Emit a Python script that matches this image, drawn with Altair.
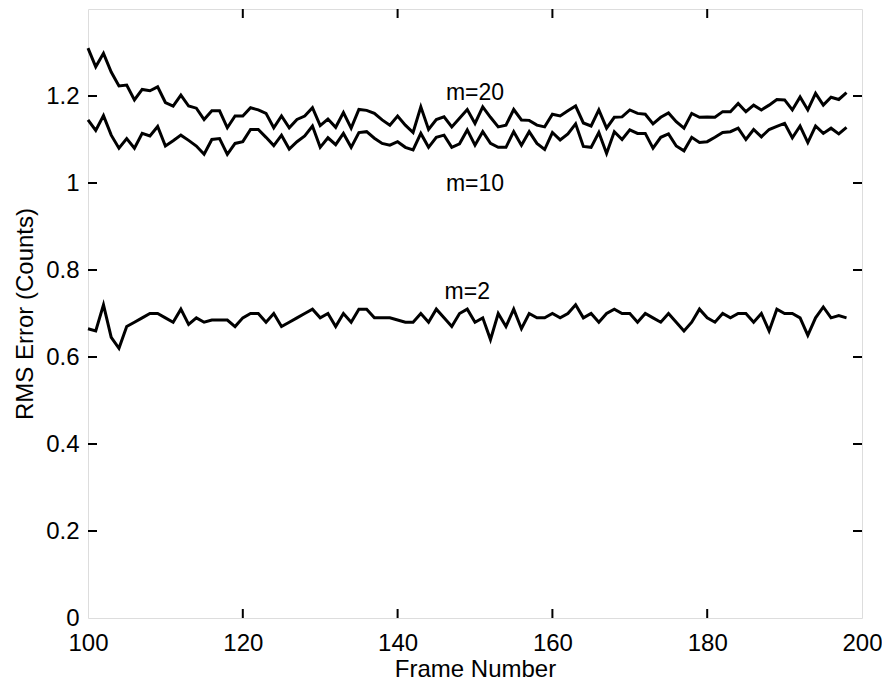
import altair as alt
import pandas as pd

frames = list(range(100, 199))

m20 = [1.31, 1.267, 1.298, 1.255, 1.223, 1.225, 1.191, 1.215, 1.212, 1.221,
       1.185, 1.177, 1.202, 1.177, 1.172, 1.146, 1.166, 1.166, 1.127, 1.154,
       1.154, 1.173, 1.168, 1.160, 1.127, 1.154, 1.127, 1.146, 1.154, 1.173,
       1.132, 1.147, 1.128, 1.162, 1.126, 1.169, 1.167, 1.160, 1.145, 1.133,
       1.154, 1.133, 1.116, 1.175, 1.123, 1.146, 1.152, 1.129, 1.149, 1.169,
       1.137, 1.175, 1.151, 1.129, 1.133, 1.169, 1.145, 1.144, 1.133, 1.129,
       1.158, 1.154, 1.166, 1.177, 1.138, 1.131, 1.168, 1.126, 1.151, 1.152,
       1.168, 1.160, 1.158, 1.136, 1.151, 1.161, 1.141, 1.126, 1.160, 1.151,
       1.152, 1.151, 1.164, 1.164, 1.183, 1.164, 1.179, 1.168, 1.179, 1.192,
       1.191, 1.168, 1.198, 1.168, 1.206, 1.179, 1.197, 1.192, 1.208]

m10 = [1.145, 1.121, 1.155, 1.110, 1.080, 1.102, 1.080, 1.114, 1.108, 1.130,
       1.085, 1.097, 1.110, 1.098, 1.085, 1.066, 1.100, 1.102, 1.066, 1.091,
       1.095, 1.123, 1.123, 1.105, 1.086, 1.110, 1.078, 1.095, 1.108, 1.131,
       1.082, 1.104, 1.088, 1.114, 1.082, 1.116, 1.118, 1.103, 1.091, 1.087,
       1.095, 1.082, 1.076, 1.114, 1.082, 1.105, 1.110, 1.082, 1.090, 1.122,
       1.087, 1.118, 1.091, 1.082, 1.082, 1.118, 1.087, 1.118, 1.091, 1.077,
       1.116, 1.099, 1.113, 1.136, 1.084, 1.082, 1.116, 1.068, 1.118, 1.100,
       1.122, 1.114, 1.114, 1.080, 1.105, 1.113, 1.085, 1.074, 1.105, 1.093,
       1.095, 1.105, 1.116, 1.118, 1.126, 1.100, 1.123, 1.106, 1.123, 1.130,
       1.137, 1.104, 1.131, 1.093, 1.131, 1.114, 1.126, 1.113, 1.128]

m2 = [0.665, 0.66, 0.72, 0.645, 0.62, 0.67, 0.68, 0.69, 0.70, 0.70,
      0.69, 0.68, 0.71, 0.675, 0.69, 0.68, 0.685, 0.685, 0.685, 0.67,
      0.69, 0.70, 0.70, 0.68, 0.70, 0.67, 0.68, 0.69, 0.70, 0.71,
      0.69, 0.70, 0.67, 0.70, 0.68, 0.71, 0.71, 0.69, 0.69, 0.69,
      0.685, 0.68, 0.68, 0.70, 0.68, 0.71, 0.69, 0.67, 0.70, 0.71,
      0.68, 0.69, 0.64, 0.70, 0.67, 0.71, 0.665, 0.70, 0.69, 0.69,
      0.70, 0.69, 0.70, 0.72, 0.69, 0.70, 0.68, 0.70, 0.71, 0.70,
      0.70, 0.68, 0.70, 0.69, 0.68, 0.70, 0.68, 0.66, 0.68, 0.71,
      0.69, 0.68, 0.70, 0.69, 0.70, 0.70, 0.68, 0.70, 0.66, 0.71,
      0.70, 0.70, 0.69, 0.65, 0.69, 0.715, 0.69, 0.695, 0.69]

series_names = ["m=20", "m=10", "m=2"]

label_text = ["m=20", "m=10", "m=2"]
label_frame = [150, 150, 149]
label_value = [1.207, 0.998, 0.75]

x_ticks = [120, 140, 160, 180]
y_ticks = [0.2, 0.4, 0.6, 0.8, 1.0, 1.2]
x_labels = [100, 120, 140, 160, 180, 200]
y_labels = [0, 0.2, 0.4, 0.6, 0.8, 1.0, 1.2]

W, H = 774, 609
FONT = "Liberation Sans"

rows = []
for name, vals in zip(series_names, [m20, m10, m2]):
    for f, v in zip(frames, vals):
        rows.append({"frame": f, "rms": v, "series": name})
df = pd.DataFrame(rows)

xscale = alt.Scale(domain=[100, 200], nice=False, zero=False)
yscale = alt.Scale(domain=[0, 1.4], nice=False)

lines = alt.Chart(df).mark_line(color="black", strokeWidth=3).encode(
    x=alt.X("frame:Q", scale=xscale,
            axis=alt.Axis(title="Frame Number", values=x_labels, ticks=False,
                          domain=False, grid=False, labelFontSize=24,
                          labelFont=FONT, labelColor="black", labelPadding=13,
                          titleFont=FONT, titleFontSize=24, titleFontWeight="normal",
                          titleColor="black", titlePadding=2, labelFlush=False)),
    y=alt.Y("rms:Q", scale=yscale,
            axis=alt.Axis(title="RMS Error (Counts)", values=y_labels, ticks=False,
                          domain=False, grid=False, format=".2~g", labelFontSize=24,
                          labelFont=FONT, labelColor="black", labelPadding=9,
                          titleFont=FONT, titleFontSize=24, titleFontWeight="normal",
                          titleColor="black", titlePadding=8, labelFlush=False)),
    detail="series:N",
)

labels_df = pd.DataFrame({"frame": label_frame, "rms": label_value, "text": label_text})
texts = alt.Chart(labels_df).mark_text(font=FONT, fontSize=23, color="black").encode(
    x=alt.X("frame:Q", scale=xscale), y=alt.Y("rms:Q", scale=yscale), text="text:N")

xt = pd.DataFrame({"frame": x_ticks})
yt = pd.DataFrame({"rms": y_ticks})
TL = 9
bottom_ticks = alt.Chart(xt).mark_rule(color="black", strokeWidth=2).encode(
    x=alt.X("frame:Q", scale=xscale), y=alt.value(H), y2=alt.value(H - TL))
top_ticks = alt.Chart(xt).mark_rule(color="black", strokeWidth=2).encode(
    x=alt.X("frame:Q", scale=xscale), y=alt.value(0), y2=alt.value(TL))
left_ticks = alt.Chart(yt).mark_rule(color="black", strokeWidth=2).encode(
    y=alt.Y("rms:Q", scale=yscale), x=alt.value(0), x2=alt.value(TL))
right_ticks = alt.Chart(yt).mark_rule(color="black", strokeWidth=2).encode(
    y=alt.Y("rms:Q", scale=yscale), x=alt.value(W), x2=alt.value(W - TL))

chart = alt.layer(lines, texts, bottom_ticks, top_ticks, left_ticks, right_ticks).properties(
    width=W, height=H,
    autosize=alt.AutoSizeParams(type="none"),
    padding={"left": 80, "top": 1, "right": 20, "bottom": 62},
).configure_view(stroke="black", strokeWidth=2.4).configure(background="white")

chart.save("out.html", embed_options={"renderer": "svg", "actions": False})
